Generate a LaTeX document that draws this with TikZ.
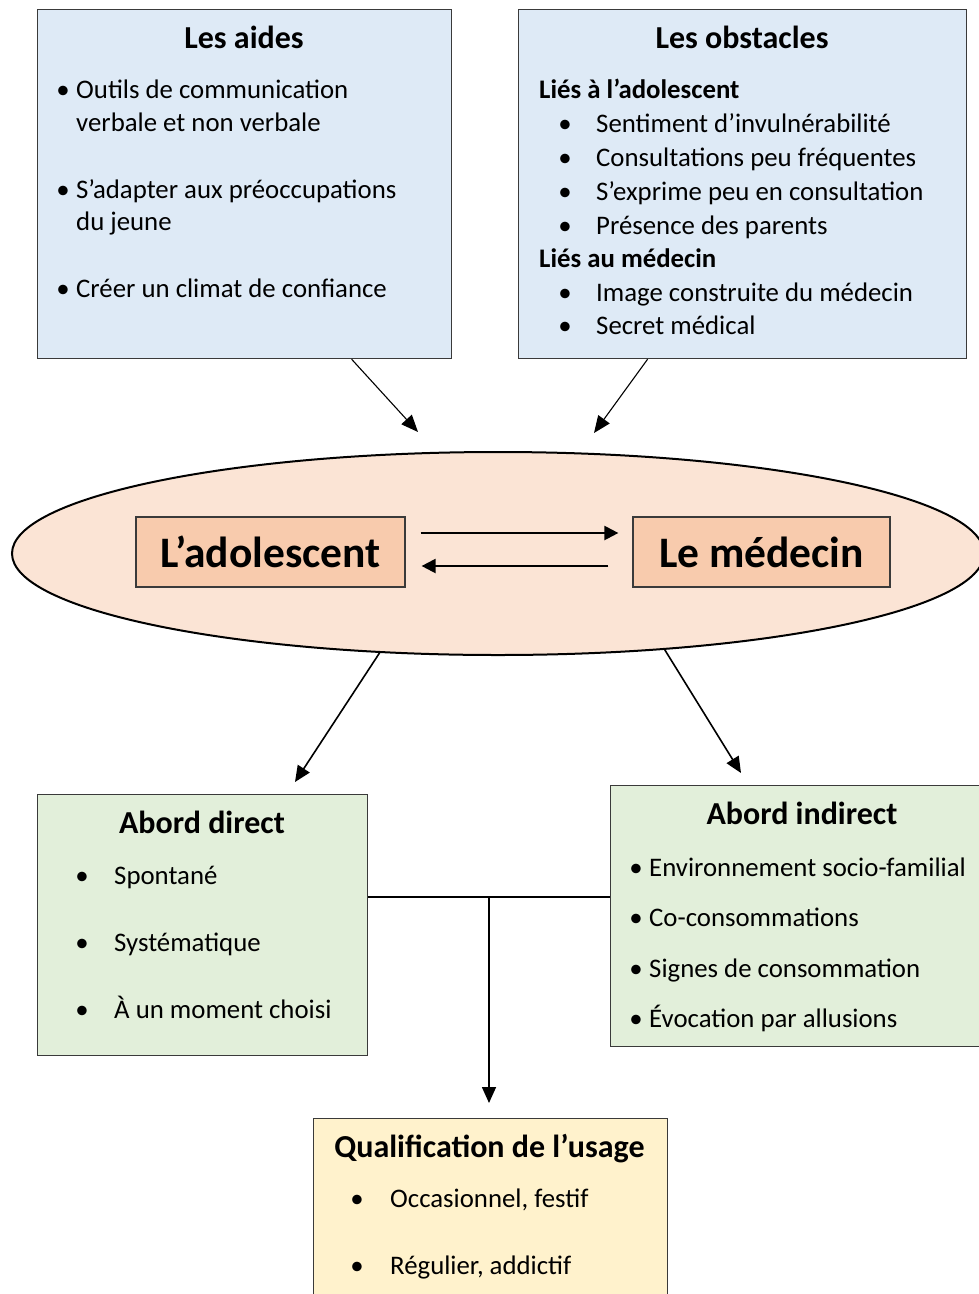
\documentclass[tikz,border=0pt]{standalone}
\usepackage{fontspec}
\setmainfont{Carlito}
\usetikzlibrary{shapes.geometric,arrows.meta}
\definecolor{bluef}{HTML}{DEEAF6}
\definecolor{peachl}{HTML}{FBE4D5}
\definecolor{peach}{HTML}{F8CBAD}
\definecolor{greenf}{HTML}{E2EFDA}
\definecolor{yellowf}{HTML}{FFF2CC}
\definecolor{boxline}{HTML}{3A3A3A}
\begin{document}
\begin{tikzpicture}[x=1pt,y=-1pt,
  box/.style={draw=boxline, line width=1.2pt, inner sep=0pt, anchor=north west},
  txt/.style={inner sep=0pt, anchor=base west, font=\fontsize{26.8pt}{33pt}\selectfont},
  btxt/.style={inner sep=0pt, anchor=base west, font=\fontsize{26.8pt}{33pt}\selectfont\bfseries},
  ttl/.style={inner sep=0pt, anchor=base, font=\fontsize{32pt}{38pt}\selectfont\bfseries},
  bul/.style={inner sep=0pt, anchor=base, font=\fontsize{26.8pt}{33pt}\selectfont},
  big/.style={draw=boxline, line width=1.2pt, fill=peach, inner sep=0pt, font=\fontsize{43.5pt}{50pt}\selectfont\bfseries},
  arr/.style={line width=1.1pt, -{Triangle[length=17pt,width=14pt]}},
  darr/.style={line width=1.6pt, -{Triangle[length=16pt,width=14pt]}},
  harr/.style={line width=2.2pt, -{Triangle[length=14pt,width=14pt]}},
]
\useasboundingbox (0,0) rectangle (979,1294);

% --- top boxes
\node[box, fill=bluef, minimum width=414pt, minimum height=349pt] (aides) at (37,9) {};
\node[box, fill=bluef, minimum width=448pt, minimum height=349pt] (obst) at (518,9) {};

\node[ttl] (taides) at (244,48) {Les aides};
\node[bul] (ab1) at (63,98.5) {•};
\node[txt] (a1) at (76,98.5) {Outils de communication};
\node[txt] (a1b) at (76,131.5) {verbale et non verbale};
\node[bul] (ab2) at (63,198.5) {•};
\node[txt] (a2) at (76,198.5) {S’adapter aux préoccupations};
\node[txt] (a2b) at (76,230.5) {du jeune};
\node[bul] (ab3) at (63,297.5) {•};
\node[txt] (a3) at (76,297.5) {Créer un climat de confiance};

\node[ttl] (tobst) at (742,48) {Les obstacles};
\node[btxt] (oh1) at (539,98.5) {Liés à l’adolescent};
\node[bul] (ob1) at (565,132.5) {•};
\node[txt] (o1) at (596,132.5) {Sentiment d’invulnérabilité};
\node[bul] (ob2) at (565,166.5) {•};
\node[txt] (o2) at (596,166.5) {Consultations peu fréquentes};
\node[bul] (ob3) at (565,200.5) {•};
\node[txt] (o3) at (596,200.5) {S’exprime peu en consultation};
\node[bul] (ob4) at (565,234.5) {•};
\node[txt] (o4) at (596,234.5) {Présence des parents};
\node[btxt] (oh2) at (539,267.5) {Liés au médecin};
\node[bul] (ob5) at (565,301.5) {•};
\node[txt] (o5) at (596,301.5) {Image construite du médecin};
\node[bul] (ob6) at (565,334.5) {•};
\node[txt] (o6) at (596,334.5) {Secret médical};

% --- ellipse
\node[ellipse, draw=black, line width=2pt, fill=peachl, minimum width=972pt, minimum height=203pt, inner sep=0pt] (ell) at (498,553.5) {};
\node[big, minimum width=269pt, minimum height=70pt] (ado) at (270.5,552) {L’adolescent};
\node[big, minimum width=257pt, minimum height=70pt] (med) at (761.5,552) {Le médecin};

\draw[harr] ([xshift=15pt,yshift=19pt]ado.east) -- ([xshift=-14pt,yshift=19pt]med.west);
\draw[harr] ([xshift=-24pt,yshift=-14pt]med.west) -- ([xshift=16pt,yshift=-14pt]ado.east);

% arrows to ellipse
\coordinate (e1) at (418,432);
\coordinate (e2) at (594,433);
\draw[arr] ([xshift=107pt]aides.south) -- (e1);
\draw[arr] ([xshift=-95pt]obst.south) -- (e2);

% --- lower boxes
\node[box, fill=greenf, minimum width=330pt, minimum height=261pt] (direct) at (37,794) {};
\node[box, fill=greenf, minimum width=380pt, minimum height=261pt] (indirect) at (610,785) {};

\coordinate (d1) at (295,782);
\coordinate (d2) at (741,773);
\draw[darr] (ell.220) -- (d1);
\draw[darr] (ell.330) -- (d2);

\node[ttl] (tdir) at (202,833) {Abord direct};
\node[bul] (db1) at (82,884) {•};
\node[txt] (dd1) at (114,884) {Spontané};
\node[bul] (db2) at (82,951) {•};
\node[txt] (dd2) at (114,951) {Systématique};
\node[bul] (db3) at (82,1018) {•};
\node[txt] (dd3) at (114,1018) {À un moment choisi};

\node[ttl] (tind) at (802,824) {Abord indirect};
\node[bul] (ib1) at (636,876) {•};
\node[txt] (i1) at (649,876) {Environnement socio-familial};
\node[bul] (ib2) at (636,926) {•};
\node[txt] (i2) at (649,926) {Co-consommations};
\node[bul] (ib3) at (636,977) {•};
\node[txt] (i3) at (649,977) {Signes de consommation};
\node[bul] (ib4) at (636,1027) {•};
\node[txt] (i4) at (649,1027) {Évocation par allusions};

% --- junction
\coordinate (j) at (489,897);
\coordinate (q) at (489,1103);
\draw[line width=2pt] (j -| direct.east) -- (j -| indirect.west);
\draw[darr] (j) -- (q);

\node[box, fill=yellowf, minimum width=354pt, minimum height=192pt] (qual) at (313,1118) {};
\node[ttl] (tq) at (489.5,1157) {Qualification de l’usage};
\node[bul] (qb1) at (357,1207) {•};
\node[txt] (q1) at (390,1207) {Occasionnel, festif};
\node[bul] (qb2) at (357,1274) {•};
\node[txt] (q2) at (390,1274) {Régulier, addictif};
\end{tikzpicture}
\end{document}
